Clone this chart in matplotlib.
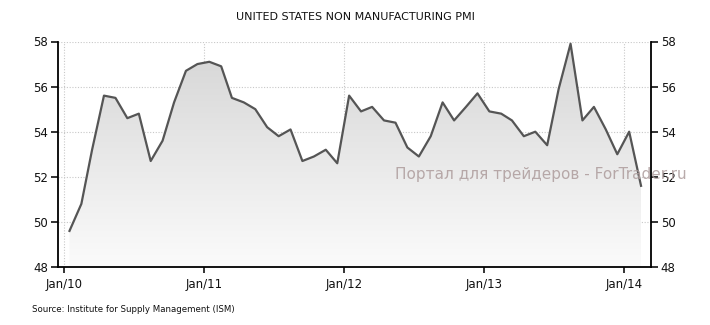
import numpy as np
import pandas as pd
import matplotlib
matplotlib.use("Agg")
import matplotlib.pyplot as plt
import matplotlib.dates as mdates
from matplotlib.colors import LinearSegmentedColormap

# monthly ISM non-manufacturing PMI, Jan 2010 - Feb 2014
pmi_2010 = [49.6, 50.8, 53.2, 55.6, 55.5, 54.6, 54.8, 52.7, 53.6, 55.3, 56.7, 57.0]
pmi_2011 = [57.1, 56.9, 55.5, 55.3, 55.0, 54.2, 53.8, 54.1, 52.7, 52.9, 53.2, 52.6]
pmi_2012 = [55.6, 54.9, 55.1, 54.5, 54.4, 53.3, 52.9, 53.8, 55.3, 54.5, 55.1, 55.7]
pmi_2013 = [54.9, 54.8, 54.5, 53.8, 54.0, 53.4, 55.9, 57.9, 54.5, 55.1, 54.1, 53.0]
pmi_2014 = [54.0, 51.6]
values = pmi_2010 + pmi_2011 + pmi_2012 + pmi_2013 + pmi_2014
# points sit mid-month
dates = pd.date_range("2010-01-01", periods=len(values), freq="MS") + pd.Timedelta(days=14)

yticks = [48, 50, 52, 54, 56, 58]
xtick_dates = pd.to_datetime(["2010-01-01", "2011-01-01", "2012-01-01", "2013-01-01", "2014-01-01"])
xtick_labels = ["Jan/10", "Jan/11", "Jan/12", "Jan/13", "Jan/14"]

fig = plt.figure(figsize=(7.1, 3.25), dpi=100)
ax = fig.add_axes([58 / 710, 1 - 267 / 325, (651 - 58) / 710, (267 - 41.5) / 325])

x = mdates.date2num(dates)
xmin = mdates.date2num(pd.Timestamp("2009-12-16"))
xmax = mdates.date2num(pd.Timestamp("2014-03-13"))
ax.set_xlim(xmin, xmax)
ax.set_ylim(48, 58)

# gradient fill under the line
poly = ax.fill_between(x, values, 48, color="none", lw=0)
cmap = LinearSegmentedColormap.from_list("g", ["#fbfbfb", "#d5d5d5"])
grad = np.linspace(0, 1, 256).reshape(-1, 1)
im = ax.imshow(grad, cmap=cmap, aspect="auto", origin="lower",
               extent=[x[0], x[-1], 48, 58], zorder=1)
im.set_clip_path(poly.get_paths()[0], transform=ax.transData)

ax.plot(x, values, color="#555555", lw=1.6, zorder=3)

ax.set_yticks(yticks)
ax.set_xticks(mdates.date2num(xtick_dates))
ax.set_xticklabels(xtick_labels)
ax.grid(True, color="#c8c8c8", linestyle=(0, (1, 1.5)), lw=0.8, zorder=0)
ax.set_axisbelow(True)

for s in ["left", "right", "bottom"]:
    ax.spines[s].set_linewidth(1.3)
    ax.spines[s].set_color("black")
ax.spines["top"].set_visible(False)
ax.tick_params(axis="y", left=True, right=True, labelleft=True, labelright=True,
               direction="out", length=5, width=1.2, labelsize=8.5, pad=2, colors="#111111")
ax.tick_params(axis="x", direction="out", length=4, width=1.2, labelsize=8.5, pad=4, colors="#111111")

fig.text(0.5, 1 - 17 / 325, "UNITED STATES NON MANUFACTURING PMI", ha="center", va="center",
         fontsize=8, color="#111111")
fig.text(32 / 710, 1 - 310 / 325, "Source: Institute for Supply Management (ISM)", ha="left",
         va="center", fontsize=6.2, color="#111111")
fig.text(395 / 710, 1 - 174 / 325, "Портал для трейдеров - ForTrader.ru", ha="left", va="center",
         fontsize=11, color="#ad9c9c", alpha=0.85, zorder=5)

fig.savefig("out.png", dpi=100)
